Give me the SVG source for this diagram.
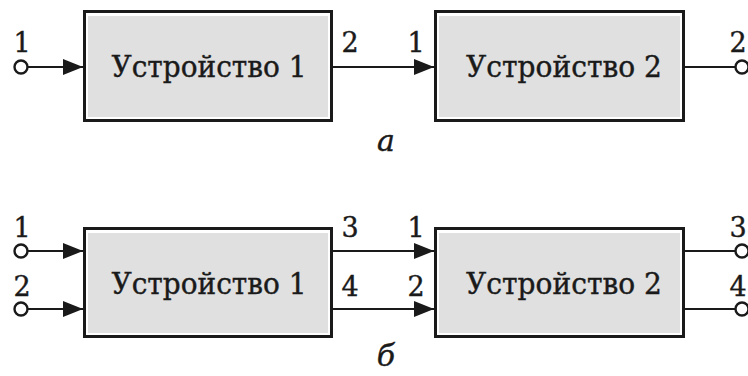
<svg xmlns="http://www.w3.org/2000/svg" width="748" height="376" viewBox="0 0 748 376">
<defs>
<style>
.box{fill:#ffffff;stroke:#1a1a1a;stroke-width:3}
.inner{fill:#e0e0e0;stroke:none}
.t{font-family:"DejaVu Serif","Liberation Serif",serif;font-size:29px;fill:#1a1a1a;stroke:#1a1a1a;stroke-width:0.4;text-anchor:middle}
.lbl{font-family:"DejaVu Serif","Liberation Serif",serif;font-size:27px;fill:#1a1a1a;stroke:#1a1a1a;stroke-width:0.4;text-anchor:middle}
.cap{font-family:"DejaVu Serif","Liberation Serif",serif;font-size:30px;font-style:italic;fill:#1a1a1a;stroke:#1a1a1a;stroke-width:0.4;text-anchor:middle}
.ln{stroke:#1a1a1a;stroke-width:2.2;fill:none}
.arr{stroke:#1a1a1a;stroke-width:2.2;fill:none;marker-end:url(#ah)}
.term{fill:#ffffff;stroke:#1a1a1a;stroke-width:2.4}
</style>
<marker id="ah" viewBox="0 0 20 16" refX="20" refY="8" markerWidth="20" markerHeight="16" markerUnits="userSpaceOnUse" orient="auto">
<path d="M0,0 L20,8 L0,16 z" fill="#1a1a1a"/>
</marker>
</defs>

<g id="connectors">
<line class="arr" x1="27" y1="67" x2="83" y2="67"/>
<line class="arr" x1="333" y1="67" x2="434" y2="67"/>
<line class="ln" x1="685" y1="67" x2="736" y2="67"/>
<line class="arr" x1="27" y1="251" x2="83" y2="251"/>
<line class="arr" x1="27" y1="309" x2="83" y2="309"/>
<line class="arr" x1="333" y1="251" x2="434" y2="251"/>
<line class="arr" x1="333" y1="309" x2="434" y2="309"/>
<line class="ln" x1="685" y1="251" x2="736" y2="251"/>
<line class="ln" x1="685" y1="309" x2="736" y2="309"/>
</g>

<g id="terminals">
<circle class="term" cx="21" cy="67" r="6.5"/>
<circle class="term" cx="742" cy="67" r="6.5"/>
<circle class="term" cx="21" cy="251" r="6.5"/>
<circle class="term" cx="21" cy="309" r="6.5"/>
<circle class="term" cx="742" cy="251" r="6.5"/>
<circle class="term" cx="742" cy="309" r="6.5"/>
</g>

<g id="a-dev1">
<rect class="box" x="84.5" y="11.5" width="247" height="109"/>
<rect class="inner" x="88" y="16" width="240" height="101"/>
<text class="t" x="209" y="77" textLength="195" lengthAdjust="spacingAndGlyphs">Устройство 1</text>
</g>
<g id="a-dev2">
<rect class="box" x="435.5" y="11.5" width="248" height="109"/>
<rect class="inner" x="439" y="16" width="241" height="101"/>
<text class="t" x="564" y="77" textLength="196" lengthAdjust="spacingAndGlyphs">Устройство 2</text>
</g>
<g id="b-dev1">
<rect class="box" x="84.5" y="228.5" width="247" height="108"/>
<rect class="inner" x="88" y="233" width="240" height="100"/>
<text class="t" x="209" y="294" textLength="195" lengthAdjust="spacingAndGlyphs">Устройство 1</text>
</g>
<g id="b-dev2">
<rect class="box" x="435.5" y="228.5" width="248" height="108"/>
<rect class="inner" x="439" y="233" width="241" height="100"/>
<text class="t" x="564" y="294" textLength="196" lengthAdjust="spacingAndGlyphs">Устройство 2</text>
</g>

<g id="labels">
<text class="lbl" x="22" y="52">1</text>
<text class="lbl" x="350" y="52">2</text>
<text class="lbl" x="416" y="52">1</text>
<text class="lbl" x="738" y="52">2</text>
<text class="lbl" x="22" y="237">1</text>
<text class="lbl" x="22" y="296">2</text>
<text class="lbl" x="350" y="237">3</text>
<text class="lbl" x="350" y="296">4</text>
<text class="lbl" x="416" y="237">1</text>
<text class="lbl" x="416" y="296">2</text>
<text class="lbl" x="738" y="237">3</text>
<text class="lbl" x="738" y="296">4</text>
<text class="cap" x="386" y="151">а</text>
<text class="cap" x="386" y="366">б</text>
</g>
</svg>
